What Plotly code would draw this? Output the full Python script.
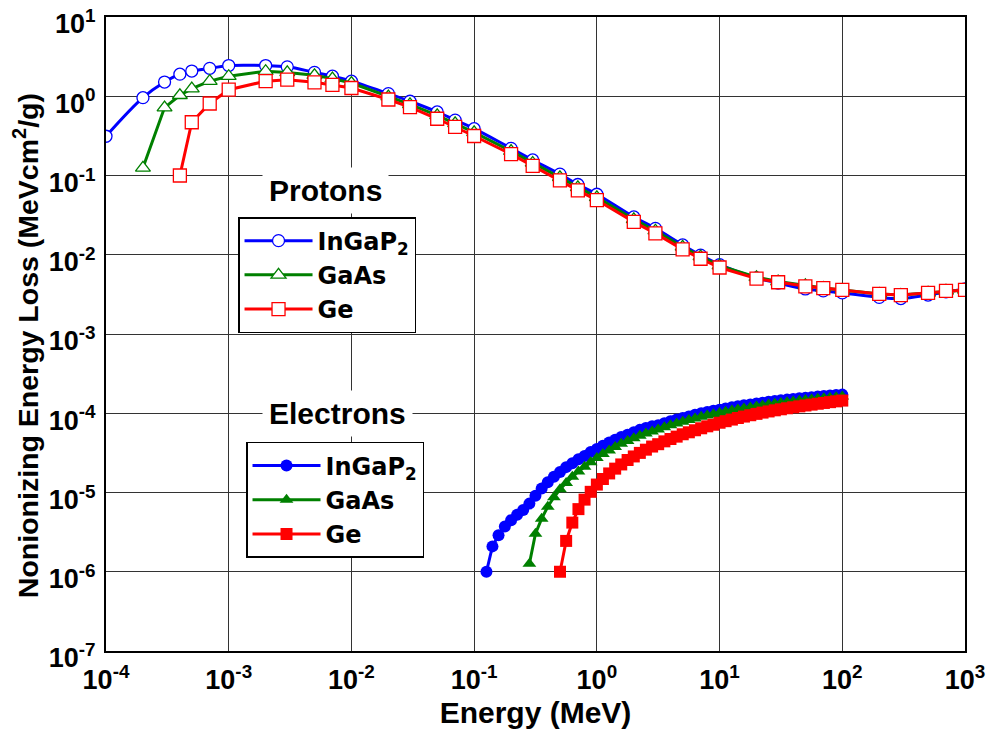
import plotly.graph_objects as go

# ---------------- data ----------------
# Protons
E_p = [1e-4, 2e-4, 3e-4, 4e-4, 5e-4, 7e-4, 1e-3, 2e-3, 3e-3, 5e-3, 7e-3,
       1e-2, 2e-2, 3e-2, 5e-2, 7e-2, 0.1, 0.2, 0.3, 0.5, 0.7, 1, 2, 3, 5, 7,
       10, 20, 30, 50, 70, 100, 200, 300, 500, 700, 1000]
p_ingap = [0.313, 0.96, 1.51, 1.9, 2.08, 2.25, 2.44, 2.44, 2.35, 2.0, 1.79,
           1.55, 1.08, 0.865, 0.634, 0.50, 0.39, 0.22, 0.157, 0.104, 0.077,
           0.058, 0.030, 0.0215, 0.0133, 0.0099, 0.0075, 0.0051, 0.0044,
           0.0037, 0.0035, 0.0033, 0.0029, 0.0028, 0.0031, 0.0034, 0.0037]
E_p_gaas = E_p[1:]
p_gaas = [0.125, 0.72, 1.03, 1.25, 1.55, 1.79, 2.07, 2.0, 1.84, 1.67,
          1.47, 0.99, 0.79, 0.575, 0.455, 0.35, 0.203, 0.144, 0.095, 0.071,
          0.053, 0.028, 0.0201, 0.0126, 0.0095, 0.0073, 0.0052, 0.0046,
          0.0041, 0.0038, 0.0036, 0.0032, 0.0031, 0.0033, 0.0035, 0.0036]
E_p_ge = E_p[3:]
p_ge = [0.1, 0.47, 0.81, 1.21, 1.55, 1.62, 1.50, 1.39,
        1.27, 0.91, 0.73, 0.52, 0.41, 0.315, 0.186, 0.132, 0.087, 0.065,
        0.049, 0.026, 0.0186, 0.0117, 0.0089, 0.0069, 0.0050, 0.0045,
        0.0040, 0.0038, 0.0036, 0.0032, 0.0031, 0.0033, 0.0035, 0.0036]

# Electrons
E_e = [0.126, 0.141, 0.158, 0.178, 0.2, 0.224, 0.251, 0.282, 0.316, 0.355,
       0.398, 0.447, 0.501, 0.562, 0.631, 0.708, 0.794, 0.891, 1.0, 1.12,
       1.26, 1.41, 1.58, 1.78, 2.0, 2.24, 2.51, 2.82, 3.16, 3.55, 3.98, 4.47,
       5.01, 5.62, 6.31, 7.08, 7.94, 8.91, 10.0, 11.2, 12.6, 14.1, 15.8, 17.8,
       20.0, 22.4, 25.1, 28.2, 31.6, 35.5, 39.8, 44.7, 50.1, 56.2, 63.1, 70.8,
       79.4, 89.1, 100.0]
e_ingap = [1.00e-6, 2.09e-6, 2.88e-6, 3.72e-6, 4.47e-6, 5.25e-6, 6.03e-6,
           7.24e-6, 9.12e-6, 1.12e-5, 1.35e-5, 1.58e-5, 1.82e-5, 2.09e-5,
           2.34e-5, 2.63e-5, 2.88e-5, 3.24e-5, 3.55e-5, 3.89e-5, 4.27e-5,
           4.62e-5, 5.01e-5, 5.37e-5, 5.75e-5, 6.17e-5, 6.53e-5, 6.84e-5,
           7.08e-5, 7.50e-5, 7.94e-5, 8.32e-5, 8.71e-5, 9.12e-5, 9.55e-5,
           1.00e-4, 1.035e-4, 1.072e-4, 1.109e-4, 1.148e-4, 1.189e-4,
           1.225e-4, 1.259e-4, 1.294e-4, 1.327e-4, 1.361e-4, 1.393e-4,
           1.426e-4, 1.455e-4, 1.486e-4, 1.514e-4, 1.542e-4, 1.570e-4,
           1.596e-4, 1.622e-4, 1.648e-4, 1.671e-4, 1.694e-4, 1.718e-4]
E_e_gaas = E_e[7:]
e_gaas = [1.26e-6, 3.02e-6, 4.68e-6, 6.61e-6, 8.71e-6, 1.10e-5, 1.32e-5,
          1.58e-5, 1.84e-5, 2.11e-5, 2.40e-5, 2.72e-5, 3.05e-5, 3.39e-5,
          3.76e-5, 4.12e-5, 4.47e-5, 4.84e-5, 5.19e-5, 5.56e-5, 5.89e-5,
          6.24e-5, 6.68e-5, 7.08e-5, 7.45e-5, 7.82e-5, 8.20e-5, 8.59e-5,
          9.02e-5, 9.35e-5, 9.71e-5, 1.005e-4, 1.042e-4, 1.081e-4, 1.117e-4,
          1.151e-4, 1.186e-4, 1.219e-4, 1.253e-4, 1.285e-4, 1.318e-4,
          1.349e-4, 1.380e-4, 1.409e-4, 1.439e-4, 1.469e-4, 1.496e-4,
          1.524e-4, 1.549e-4, 1.574e-4, 1.596e-4, 1.622e-4]
E_e_ge = E_e[12:]
e_ge = [1.00e-6, 2.45e-6, 4.17e-6, 6.17e-6, 8.13e-6, 1.02e-5, 1.26e-5,
        1.48e-5, 1.74e-5, 2.00e-5, 2.26e-5, 2.57e-5, 2.85e-5, 3.16e-5,
        3.47e-5, 3.80e-5, 4.07e-5, 4.42e-5, 4.73e-5, 5.07e-5, 5.43e-5,
        5.75e-5, 6.10e-5, 6.46e-5, 6.84e-5, 7.16e-5, 7.59e-5, 7.94e-5,
        8.32e-5, 8.71e-5, 9.08e-5, 9.44e-5, 9.82e-5, 1.019e-4, 1.054e-4,
        1.089e-4, 1.122e-4, 1.156e-4, 1.189e-4, 1.222e-4, 1.253e-4,
        1.285e-4, 1.318e-4, 1.349e-4, 1.380e-4, 1.413e-4, 1.445e-4]

x_tickvals = [1e-4, 1e-3, 1e-2, 1e-1, 1, 10, 100, 1000]
x_ticktext = ["10<sup>-4</sup>", "10<sup>-3</sup>", "10<sup>-2</sup>",
              "10<sup>-1</sup>", "10<sup>0</sup>", "10<sup>1</sup>",
              "10<sup>2</sup>", "10<sup>3</sup>"]
y_tickvals = [1e-7, 1e-6, 1e-5, 1e-4, 1e-3, 1e-2, 1e-1, 1, 10]
y_ticktext = ["10<sup>-7</sup>", "10<sup>-6</sup>", "10<sup>-5</sup>",
              "10<sup>-4</sup>", "10<sup>-3</sup>", "10<sup>-2</sup>",
              "10<sup>-1</sup>", "10<sup>0</sup>", "10<sup>1</sup>"]

names = ["InGaP<sub>2</sub>", "GaAs", "Ge"]
colors = ["#0000ff", "#008000", "#ff0000"]
symbols = ["circle", "triangle-up", "square"]

FONT = "Liberation Sans, Arial, sans-serif"
TICKFONT = dict(family=FONT, size=27, color="black", weight="bold")
LEGFONT = dict(family="DejaVu Sans, sans-serif", size=24, color="black",
               weight="bold")

fig = go.Figure()

# Protons
for xs, ys, name, col, sym, shape, sz in [
    (E_p, p_ingap, names[0], colors[0], symbols[0], "spline", 12),
    (E_p_gaas, p_gaas, names[1], colors[1], symbols[1], "linear", 13),
    (E_p_ge, p_ge, names[2], colors[2], symbols[2], "linear", 13),
]:
    fig.add_trace(go.Scatter(
        x=xs, y=ys, name=name, mode="lines+markers", legend="legend",
        line=dict(color=col, width=3, shape=shape),
        marker=dict(symbol=sym, size=sz, color="white",
                    line=dict(color=col, width=1.3)),
    ))

# Electrons
for xs, ys, name, col, sym in [
    (E_e, e_ingap, names[0], colors[0], symbols[0]),
    (E_e_gaas, e_gaas, names[1], colors[1], symbols[1]),
    (E_e_ge, e_ge, names[2], colors[2], symbols[2]),
]:
    fig.add_trace(go.Scatter(
        x=xs, y=ys, name=name, mode="lines+markers", legend="legend2",
        line=dict(color=col, width=3),
        marker=dict(symbol=sym, size=12, color=col, line=dict(width=0)),
    ))

legend_common = dict(
    bgcolor="white", bordercolor="black", borderwidth=1.5,
    font=LEGFONT,
    itemwidth=68, xanchor="left", yanchor="top", tracegroupgap=0,
)

fig.update_layout(
    width=987, height=737,
    margin=dict(l=106, r=22, t=17, b=86),
    paper_bgcolor="white", plot_bgcolor="white",
    font=dict(family=FONT, size=22, color="black"),
    showlegend=True,
    legend=dict(x=0.1537, y=0.6845, **legend_common),
    legend2=dict(x=0.163, y=0.3297, **legend_common),
    xaxis=dict(
        type="log", range=[-4, 3], automargin=False,
        tickmode="array", tickvals=x_tickvals, ticktext=x_ticktext,
        tickfont=TICKFONT, ticklabeloverflow="allow",
        showgrid=True, gridcolor="#333333", gridwidth=1.3,
        showline=True, linecolor="black", linewidth=2, mirror=True,
        ticks="", zeroline=False, ticklabelstandoff=4,
        title=dict(text="Energy (MeV)", standoff=8,
                   font=dict(family=FONT, size=30, color="black", weight="bold")),
    ),
    yaxis=dict(
        type="log", range=[-7, 1], automargin=False,
        tickmode="array", tickvals=y_tickvals, ticktext=y_ticktext,
        tickfont=TICKFONT, ticklabeloverflow="allow", ticklabelshift=7,
        showgrid=True, gridcolor="#333333", gridwidth=1.3,
        showline=True, linecolor="black", linewidth=2, mirror=True,
        ticks="", zeroline=False, ticklabelstandoff=3,
    ),
    annotations=[
        dict(text="Nonionizing Energy Loss (MeVcm<sup>2</sup>/g)",
             x=-0.093, y=0.481, xref="paper", yref="paper", textangle=-90,
             xanchor="center", yanchor="middle", showarrow=False,
             font=dict(family=FONT, size=28.5, color="black", weight="bold")),
        dict(text="Protons", x=0.256, y=0.727, xref="paper", yref="paper",
             xanchor="center", yanchor="middle",
             showarrow=False, bgcolor="white", borderpad=6,
             font=dict(family=FONT, size=30, color="black", weight="bold")),
        dict(text="Electrons", x=0.270, y=0.374, xref="paper", yref="paper",
             xanchor="center", yanchor="middle",
             showarrow=False, bgcolor="white", borderpad=6,
             font=dict(family=FONT, size=30, color="black", weight="bold")),
    ],
)

fig.write_html("out.html")
